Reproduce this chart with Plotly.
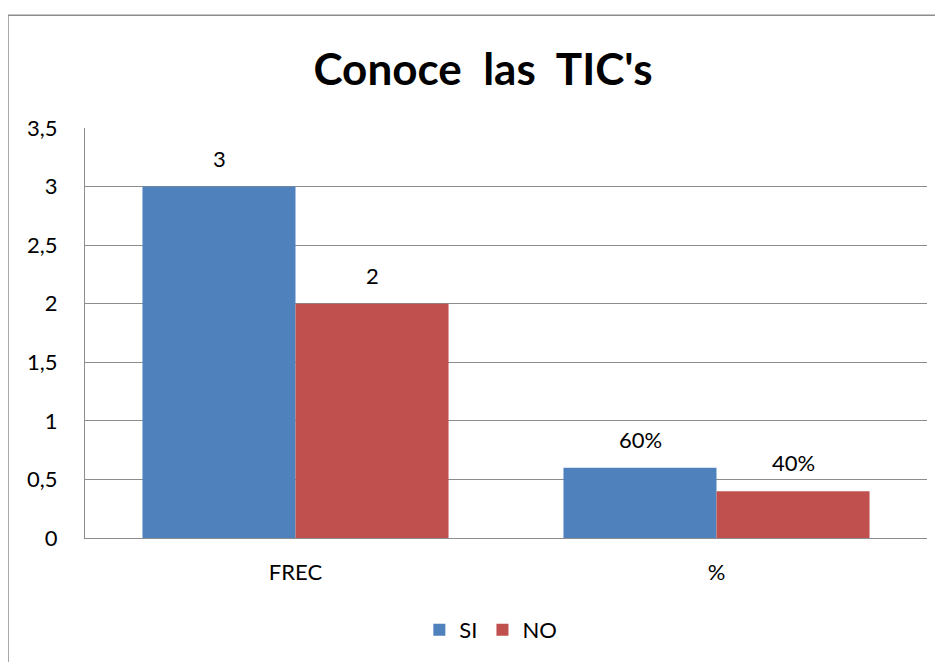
import plotly.graph_objects as go

categories = ["FREC", "%"]
si_values = [3, 0.6]
no_values = [2, 0.4]
si_labels = ["3", "60%"]
no_labels = ["2", "40%"]
y_ticks = [0, 0.5, 1, 1.5, 2, 2.5, 3, 3.5]

FONT = "Lato, Open Sans, sans-serif"
fig = go.Figure()
fig.add_trace(go.Bar(name="SI", x=categories, y=si_values, marker_color="#4F81BD",
                     marker_line_width=0))
fig.add_trace(go.Bar(name="NO", x=categories, y=no_values, marker_color="#C0504D",
                     marker_line_width=0))

half_bar_px = 76.5
for vals, labs, sh in ((si_values, si_labels, -half_bar_px), (no_values, no_labels, half_bar_px)):
    for c, v, t in zip(categories, vals, labs):
        fig.add_annotation(x=c, y=v, text=t, showarrow=False, xshift=sh, yshift=13,
                           yanchor="bottom", font=dict(size=22, family=FONT, color="#000"))

fig.update_layout(
    width=935, height=654,
    margin=dict(l=77, r=16, t=120, b=123),
    paper_bgcolor="white", plot_bgcolor="white",
    barmode="group", bargap=0.273, bargroupgap=0,
    separators=",.",
    font=dict(family=FONT, size=22, color="#000"),
    title=dict(text="<b>Conoce  las  TIC's</b>", x=0.508, xanchor="center",
               y=0.906, yanchor="middle", font=dict(size=44, family=FONT)),
    showlegend=True,
    legend=dict(orientation="h", x=0.482, xanchor="center", y=-0.221, yanchor="middle",
                font=dict(size=22), itemwidth=30, traceorder="normal"),
)
fig.update_yaxes(range=[0, 3.5], tickvals=y_ticks, showgrid=True, gridcolor="#8c8c8c",
                 gridwidth=1, showline=True, linecolor="#8c8c8c", linewidth=1,
                 zeroline=False, ticks="", ticklabelstandoff=22, automargin=False,
                 tickfont=dict(size=22))
fig.update_xaxes(showline=True, linecolor="#8c8c8c", linewidth=1, ticks="",
                 ticklabelstandoff=15, automargin=False, tickfont=dict(size=22))
# outer chart frame: left and top edges (right/bottom lie outside the window)
bx0 = (0 - 77) / 842
by1 = 1 + (120 - 7) / 411
fig.add_shape(type="line", xref="paper", yref="paper", x0=bx0, x1=bx0, y0=-140 / 411, y1=by1,
              line=dict(color="#8c8c8c", width=1.5), layer="below")
fig.add_shape(type="line", xref="paper", yref="paper", x0=bx0, x1=(960 - 77) / 842, y0=by1, y1=by1,
              line=dict(color="#8c8c8c", width=1.5), layer="below")
fig.write_html("out.html")
